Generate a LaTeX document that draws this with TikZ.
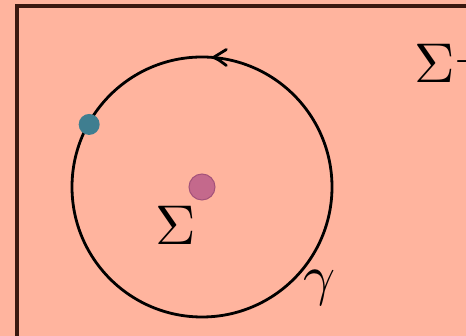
\documentclass[tikz,border=0pt]{standalone}
\usepackage{amsmath}
\usepackage{amssymb}
\usetikzlibrary{arrows.meta}
\definecolor{BgSalmon}{HTML}{FFB49E}
\definecolor{FrameBrown}{HTML}{3A1810}
\definecolor{DotTeal}{HTML}{3F7E90}
\definecolor{DotPink}{HTML}{C4698C}
\definecolor{DotPinkEdge}{HTML}{A4527A}

\begin{document}
\begin{tikzpicture}[x=1pt,y=1pt,
    biglabel/.style={scale=5.6,inner sep=0pt},
    loopline/.style={black,line width=2.8pt}]
    \useasboundingbox (0,0) rectangle (466,336);
    \clip (0,0) rectangle (466,336);
    \fill[BgSalmon] (0,0) rectangle (466,336);
    \draw[FrameBrown,line width=3.2pt] (17,-10) -- (17,330) -- (480,330);
    % the loop and its direction
    \coordinate (c) at (202,149);
    \draw[loopline] (c) circle (130);
    \coordinate (tip) at ([shift={(85:130)}]c);
    \draw[loopline,line cap=round] (tip) .. controls +(5,3) .. +(13,8);
    \draw[loopline,line cap=round] (tip) .. controls +(5,-2) .. +(13,-8);
    \fill[DotTeal] ([shift={(151:129)}]c) circle (10.5) node (base) {};
    \filldraw[fill=DotPink,draw=DotPinkEdge,line width=1pt] (c) circle (13) node (mid) {};
    \node[biglabel] (sig) at (176,111) {$\Sigma$};
    \node[biglabel] (gam) at (320,48) {$\gamma$};
    \node[biglabel,anchor=base west] (sigperp) at (413,253) {$\Sigma^{\perp}$};
  \end{tikzpicture}
\end{document}
